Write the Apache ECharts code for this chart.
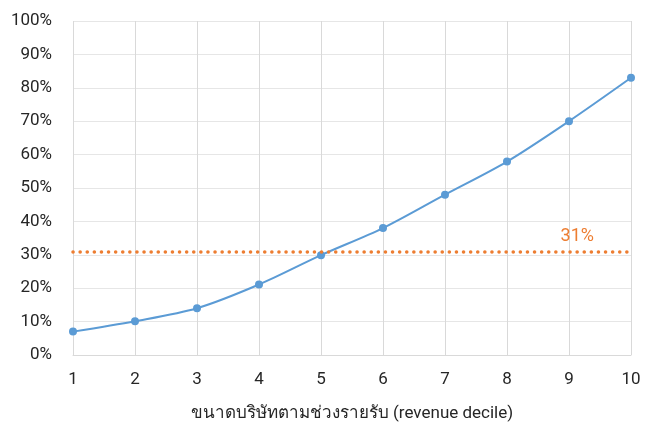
<!DOCTYPE html>
<html><head><meta charset="utf-8">
<script src="https://cdn.jsdelivr.net/npm/echarts@6/dist/echarts.min.js"></script>
<style>html,body{margin:0;padding:0;background:#fff}#c{width:661px;height:435px}</style>
</head><body><div id="c"></div>
<script>
const categories = ['1','2','3','4','5','6','7','8','9','10'];
const shareValues = [7, 10.1, 14, 21.1, 29.9, 38, 48, 57.9, 70, 83];
const thresholdValue = 31;
const thresholdLabel = '31%';
const xAxisTitle = 'ขนาดบริษัทตามช่วงรายรับ (revenue decile)';

const FONT = 'Roboto, "Noto Sans", "DejaVu Sans", sans-serif';
const chart = echarts.init(document.getElementById('c'), null, {renderer:'canvas'});
chart.setOption({
  animation:false,
  grid:{left:73,right:30,top:21,bottom:80},
  xAxis:{
    type:'category', data:categories, boundaryGap:false,
    axisLine:{lineStyle:{color:'#d9d9d9'}},
    axisTick:{show:false},
    axisLabel:{color:'#262626',fontSize:17,fontFamily:FONT,margin:16},
    splitLine:{show:true,lineStyle:{color:'#d9d9d9',width:1}},
    name:xAxisTitle, nameLocation:'middle', nameGap:50,
    nameTextStyle:{color:'#262626',fontSize:17,fontFamily:FONT}
  },
  yAxis:{
    type:'value', min:0, max:100, interval:10,
    axisLine:{show:false}, axisTick:{show:false},
    axisLabel:{color:'#262626',fontSize:17,fontFamily:FONT,margin:21,formatter:'{value}%'},
    splitLine:{lineStyle:{color:'#e6e6e6',width:1}}
  },
  series:[{
    type:'line', data:shareValues, smooth:0.3,
    symbol:'circle', symbolSize:8,
    lineStyle:{color:'#5B9BD5',width:2},
    itemStyle:{color:'#5B9BD5'},
    markLine:{
      silent:true, symbol:'none',
      lineStyle:{color:'#ED7D31',type:[0.1,7],width:3.5,cap:'round'},
      label:{show:true,position:'insideEndTop',formatter:thresholdLabel,color:'#ED7D31',fontSize:18,fontFamily:FONT,distance:[37,6]},
      data:[{yAxis:thresholdValue}]
    }
  }]
});
</script></body></html>
